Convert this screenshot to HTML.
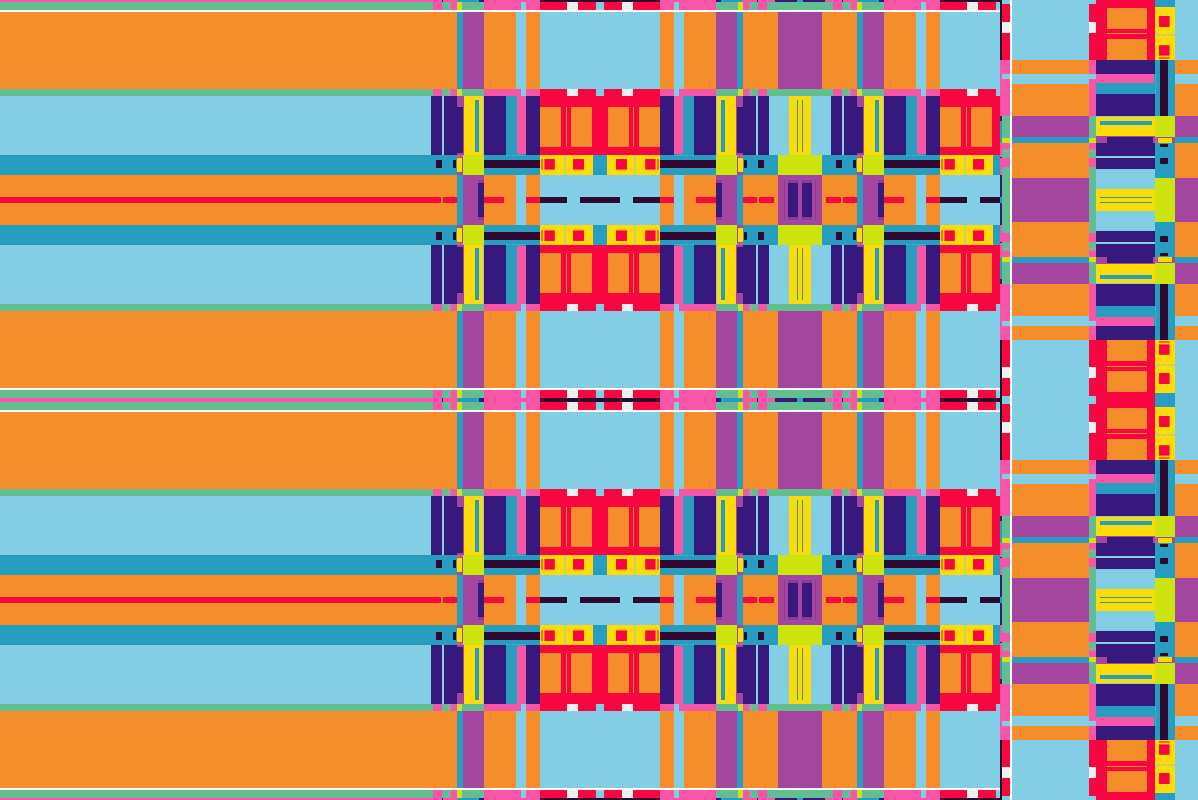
<!DOCTYPE html>
<html><head><meta charset="utf-8"><title>pattern</title>
<style>html,body{margin:0;padding:0;background:#f68d2b;overflow:hidden}svg{display:block}</style>
</head><body>
<svg width="1198" height="800" viewBox="0 0 1198 800" shape-rendering="crispEdges">
<defs>
<g id="q"><rect x="0" y="0" width="60" height="2" fill="#2e0a33"/><rect x="60" y="0" width="56" height="2" fill="#f755a7"/><rect x="116" y="0" width="5" height="2" fill="#37187c"/><rect x="121" y="0" width="22" height="2" fill="#289dc0"/><rect x="143" y="0" width="14" height="2" fill="#f755a7"/><rect x="157" y="0" width="1" height="2" fill="#37187c"/><rect x="158" y="0" width="17" height="2" fill="#f755a7"/><rect x="175" y="0" width="22" height="2" fill="#37187c"/><rect x="197" y="0" width="3" height="2" fill="#289dc0"/><rect x="0" y="2" width="4" height="8" fill="#82cee4"/><rect x="4" y="2" width="18" height="8" fill="#f7063f"/><rect x="22" y="2" width="11" height="8" fill="#f0f0f0"/><rect x="33" y="2" width="27" height="8" fill="#f7063f"/><rect x="60" y="2" width="14" height="8" fill="#f755a7"/><rect x="74" y="2" width="5" height="8" fill="#82cee4"/><rect x="79" y="2" width="37" height="8" fill="#f755a7"/><rect x="116" y="2" width="22" height="8" fill="#62bd93"/><rect x="138" y="2" width="5" height="8" fill="#cde40e"/><rect x="143" y="2" width="6" height="8" fill="#f755a7"/><rect x="149" y="2" width="2" height="8" fill="#62bd93"/><rect x="151" y="2" width="1" height="8" fill="#e084b8"/><rect x="152" y="2" width="6" height="8" fill="#62bd93"/><rect x="158" y="2" width="9" height="8" fill="#f755a7"/><rect x="167" y="2" width="33" height="8" fill="#62bd93"/><rect x="0" y="10" width="200" height="2" fill="#ffffff"/><rect x="0" y="12" width="60" height="77" fill="#82cee4"/><rect x="60" y="12" width="14" height="77" fill="#f68d2b"/><rect x="74" y="12" width="10" height="77" fill="#82cee4"/><rect x="84" y="12" width="32" height="77" fill="#f68d2b"/><rect x="116" y="12" width="21" height="77" fill="#a4459f"/><rect x="137" y="12" width="6" height="77" fill="#289dc0"/><rect x="143" y="12" width="35" height="77" fill="#f68d2b"/><rect x="178" y="12" width="22" height="77" fill="#a4459f"/><rect x="0" y="89" width="4" height="7" fill="#82cee4"/><rect x="4" y="89" width="18" height="7" fill="#f7063f"/><rect x="22" y="89" width="11" height="7" fill="#f0f0f0"/><rect x="33" y="89" width="27" height="7" fill="#f7063f"/><rect x="60" y="89" width="14" height="7" fill="#f755a7"/><rect x="74" y="89" width="5" height="7" fill="#82cee4"/><rect x="79" y="89" width="37" height="7" fill="#f755a7"/><rect x="116" y="89" width="22" height="7" fill="#62bd93"/><rect x="138" y="89" width="5" height="7" fill="#cde40e"/><rect x="143" y="89" width="6" height="7" fill="#f755a7"/><rect x="149" y="89" width="2" height="7" fill="#62bd93"/><rect x="151" y="89" width="1" height="7" fill="#e084b8"/><rect x="152" y="89" width="6" height="7" fill="#62bd93"/><rect x="158" y="89" width="9" height="7" fill="#f755a7"/><rect x="167" y="89" width="33" height="7" fill="#62bd93"/><rect x="0" y="96" width="60" height="59" fill="#f7063f"/><rect x="60" y="96" width="14" height="59" fill="#37187c"/><rect x="74" y="96" width="9" height="59" fill="#f755a7"/><rect x="83" y="96" width="11" height="59" fill="#289dc0"/><rect x="94" y="96" width="22" height="59" fill="#37187c"/><rect x="116" y="96" width="1" height="59" fill="#82cee4"/><rect x="117" y="96" width="19" height="59" fill="#fddb06"/><rect x="136" y="96" width="1" height="59" fill="#a4459f"/><rect x="137" y="96" width="19" height="59" fill="#37187c"/><rect x="156" y="96" width="2" height="59" fill="#82cee4"/><rect x="158" y="96" width="11" height="59" fill="#37187c"/><rect x="169" y="96" width="20" height="59" fill="#82cee4"/><rect x="189" y="96" width="11" height="59" fill="#fddb06"/><rect x="0" y="155" width="7" height="20" fill="#289dc0"/><rect x="7" y="155" width="27" height="20" fill="#fddb06"/><rect x="34" y="155" width="2" height="20" fill="#cad070"/><rect x="36" y="155" width="24" height="20" fill="#fddb06"/><rect x="60" y="155" width="56" height="20" fill="#289dc0"/><rect x="116" y="155" width="21" height="20" fill="#cde40e"/><rect x="137" y="155" width="6" height="20" fill="#a4459f"/><rect x="143" y="155" width="35" height="20" fill="#289dc0"/><rect x="178" y="155" width="22" height="20" fill="#cde40e"/><rect x="0" y="175" width="60" height="25" fill="#82cee4"/><rect x="60" y="175" width="14" height="25" fill="#f68d2b"/><rect x="74" y="175" width="10" height="25" fill="#82cee4"/><rect x="84" y="175" width="32" height="25" fill="#f68d2b"/><rect x="116" y="175" width="21" height="25" fill="#a4459f"/><rect x="137" y="175" width="6" height="25" fill="#289dc0"/><rect x="143" y="175" width="35" height="25" fill="#f68d2b"/><rect x="178" y="175" width="22" height="25" fill="#a4459f"/><rect x="8" y="107" width="21" height="40" fill="#f68d2b"/><rect x="33" y="107" width="1" height="40" fill="#f68d2b"/><rect x="39" y="107" width="21" height="40" fill="#f68d2b"/><rect x="121" y="100" width="4" height="52" fill="#289dc0"/><rect x="137" y="96" width="6" height="11" fill="#a4459f"/><rect x="137" y="153" width="6" height="2" fill="#a4459f"/><rect x="197" y="100" width="1" height="52" fill="#289dc0"/><rect x="74" y="154" width="9" height="1" fill="#289dc0"/><rect x="16" y="159" width="11" height="10.6" fill="#f7063f" shape-rendering="geometricPrecision"/><rect x="45.2" y="159" width="10.4" height="10.6" fill="#f7063f" shape-rendering="geometricPrecision"/><rect x="57.2" y="159" width="1.7" height="10.6" fill="#fa5028" shape-rendering="geometricPrecision"/><rect x="60" y="160" width="56" height="8" fill="#2e0a33"/><rect x="138" y="158" width="5" height="14" fill="#fddb06"/><rect x="144" y="160" width="3" height="8" fill="#2e0a33"/><rect x="158" y="160" width="6" height="8" fill="#2e0a33"/><rect x="74" y="155" width="20" height="1" fill="#3fa9c9"/><rect x="137" y="155" width="6" height="2" fill="#b861b3"/></g>
<g id="qd"><use href="#q"/><rect x="0" y="197" width="20" height="3" fill="#2e0a33"/><rect x="33" y="197" width="27" height="3" fill="#2e0a33"/><rect x="60" y="197" width="14" height="3" fill="#f7063f"/><rect x="96" y="197" width="20" height="3" fill="#f7063f"/><rect x="143" y="197" width="14" height="3" fill="#f7063f"/><rect x="159" y="197" width="15" height="3" fill="#f7063f"/><rect x="116" y="180" width="6" height="3" fill="#8b3a98"/><rect x="116" y="183" width="6" height="17" fill="#37187c"/><rect x="184" y="180" width="1" height="20" fill="#8b3a98"/><rect x="188" y="180" width="10" height="3" fill="#8b3a98"/><rect x="188" y="183" width="10" height="17" fill="#37187c"/></g>
<g id="t"><use href="#qd"/><use href="#qd" transform="scale(-1,1)"/><use href="#qd" transform="scale(1,-1)"/><use href="#qd" transform="scale(-1,-1)"/></g>
<g id="tr"><use href="#q"/><use href="#q" transform="scale(-1,1)"/><use href="#q" transform="scale(1,-1)"/><use href="#q" transform="scale(-1,-1)"/></g>
<g id="fq"><rect x="0" y="0" width="430" height="2" fill="#f755a7"/><rect x="0" y="2" width="430" height="8" fill="#62bd93"/><rect x="0" y="10" width="430" height="2" fill="#ffffff"/><rect x="0" y="12" width="430" height="77" fill="#f68d2b"/><rect x="0" y="89" width="430" height="7" fill="#62bd93"/><rect x="0" y="96" width="430" height="59" fill="#82cee4"/><rect x="0" y="155" width="430" height="20" fill="#289dc0"/><rect x="0" y="175" width="430" height="22" fill="#f68d2b"/><rect x="0" y="197" width="430" height="3" fill="#f7063f"/></g>
<g id="f"><use href="#fq"/><use href="#fq" transform="scale(1,-1)"/></g>
<clipPath id="cl"><rect x="430" y="0" width="570" height="800"/></clipPath>
<clipPath id="cr"><rect x="1000" y="0" width="198" height="800"/></clipPath>
</defs>
<g clip-path="url(#cl)">
<use href="#t" transform="translate(600,0)"/>
<use href="#t" transform="translate(600,400)"/>
<use href="#t" transform="translate(600,800)"/>
<use href="#t" transform="translate(1000,0)"/>
<use href="#t" transform="translate(1000,400)"/>
<use href="#t" transform="translate(1000,800)"/>
</g>
<use href="#f" transform="translate(0,0)"/>
<use href="#f" transform="translate(0,400)"/>
<use href="#f" transform="translate(0,800)"/>
<g clip-path="url(#cr)">
<use href="#tr" transform="matrix(0 1 1 0 1000 0)"/>
<use href="#tr" transform="matrix(0 1 1 0 1000 400)"/>
<use href="#tr" transform="matrix(0 1 1 0 1000 800)"/>
</g>
</svg>
</body></html>
